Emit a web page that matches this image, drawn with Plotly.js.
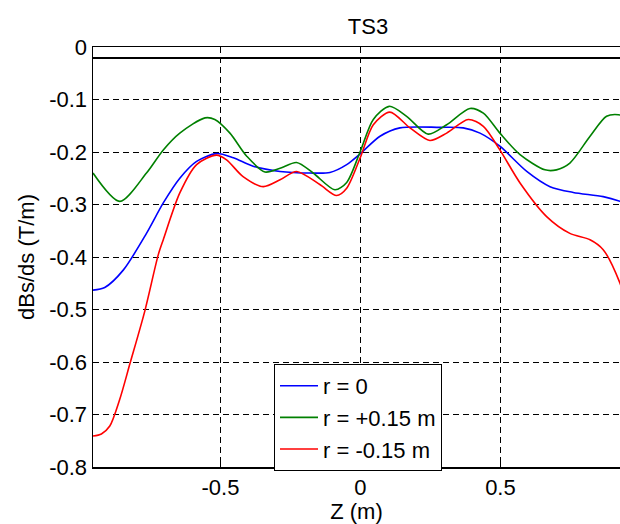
<!DOCTYPE html>
<html>
<head>
<meta charset="utf-8">
<script src="https://cdn.plot.ly/plotly-3.0.1.min.js"></script>
<style>html,body{margin:0;padding:0;background:#fff}#chart{width:620px;height:524px}</style>
</head>
<body>
<div id="chart"></div>
<script>
// ---- data ----
const seriesNames = ["r = 0", "r = +0.15 m", "r = -0.15 m"];

const zBlue = [-0.955, -0.913, -0.847, -0.764, -0.704, -0.645, -0.585, -0.514, -0.454, -0.383, -0.287, -0.18, -0.109, -0.049, 0, 0.07, 0.141, 0.284, 0.367, 0.427, 0.498, 0.594, 0.677, 0.76, 0.867, 0.927, 0.955];
const vBlue = [-0.463, -0.458, -0.425, -0.355, -0.297, -0.250, -0.218, -0.203, -0.211, -0.227, -0.237, -0.240, -0.239, -0.224, -0.203, -0.170, -0.154, -0.153, -0.154, -0.164, -0.189, -0.237, -0.266, -0.277, -0.285, -0.294, -0.300];

const zGreen = [-0.955, -0.859, -0.764, -0.704, -0.645, -0.555, -0.52, -0.466, -0.406, -0.341, -0.287, -0.228, -0.169, -0.091, -0.049, 0, 0.046, 0.103, 0.165, 0.242, 0.308, 0.391, 0.439, 0.498, 0.57, 0.659, 0.70, 0.748, 0.82, 0.879, 0.921, 0.955];
const vGreen = [-0.240, -0.294, -0.240, -0.196, -0.164, -0.135, -0.138, -0.164, -0.208, -0.238, -0.231, -0.220, -0.240, -0.272, -0.258, -0.198, -0.138, -0.113, -0.132, -0.166, -0.148, -0.117, -0.126, -0.164, -0.205, -0.234, -0.234, -0.221, -0.170, -0.132, -0.129, -0.135];

const zRed = [-0.955, -0.925, -0.895, -0.86, -0.823, -0.77, -0.722, -0.704, -0.645, -0.585, -0.514, -0.478, -0.419, -0.347, -0.287, -0.228, -0.145, -0.085, -0.049, 0, 0.046, 0.105, 0.177, 0.248, 0.308, 0.385, 0.439, 0.498, 0.57, 0.665, 0.748, 0.82, 0.867, 0.927, 0.955];
const vRed = [-0.741, -0.737, -0.722, -0.672, -0.603, -0.503, -0.396, -0.367, -0.278, -0.224, -0.206, -0.215, -0.247, -0.266, -0.253, -0.237, -0.262, -0.283, -0.269, -0.210, -0.148, -0.124, -0.154, -0.178, -0.164, -0.138, -0.151, -0.196, -0.259, -0.323, -0.355, -0.367, -0.386, -0.450, -0.500];

const zRef = [-0.955, 0.955];
const vRef = [-0.021, -0.021];

const zTicks = [-0.5, 0, 0.5];
const zTickText = ["-0.5", "0", "0.5"];
const yTicks = [0, -0.1, -0.2, -0.3, -0.4, -0.5, -0.6, -0.7, -0.8];
const yTickText = ["0", "-0.1", "-0.2", "-0.3", "-0.4", "-0.5", "-0.6", "-0.7", "-0.8"];

// ---- chart ----
const FONT = "Liberation Sans, Arial, Helvetica, sans-serif";
const lineW = 1.6;
const traces = [
  {x: zRef, y: vRef, mode: "lines", line: {color: "#000000", width: 2}, showlegend: false, hoverinfo: "skip"},
  {x: zBlue, y: vBlue, name: seriesNames[0], mode: "lines", line: {color: "#0000ff", width: lineW, shape: "spline", smoothing: 0.8}},
  {x: zGreen, y: vGreen, name: seriesNames[1], mode: "lines", line: {color: "#008000", width: lineW, shape: "spline", smoothing: 0.8}},
  {x: zRed, y: vRed, name: seriesNames[2], mode: "lines", line: {color: "#ff0000", width: lineW, shape: "spline", smoothing: 0.8}}
];

const layout = {
  width: 620, height: 524,
  margin: {l: 93, r: 0, t: 47, b: 57, pad: 0},
  paper_bgcolor: "#ffffff", plot_bgcolor: "#ffffff",
  font: {family: FONT, size: 22, color: "#000000"},
  title: {text: "TS3", x: (368 - 93) / 527, xref: "paper", xanchor: "center", y: 1 - 26 / 524, yanchor: "middle", font: {family: FONT, size: 22, color: "#000"}},
  xaxis: {
    range: [-0.955, 0.927], tickvals: zTicks, ticktext: zTickText,
    showgrid: true, gridcolor: "#000000", gridwidth: 1, griddash: "6px,4px",
    zeroline: false, showline: true, linecolor: "#000000", linewidth: 1.5, mirror: "ticks",
    ticks: "inside", ticklen: 5, tickcolor: "#000000", tickwidth: 1,
    tickfont: {family: FONT, size: 22, color: "#000"},
    title: {text: "Z (m)", font: {family: FONT, size: 22, color: "#000"}}
  },
  yaxis: {
    range: [-0.8, 0], tickvals: yTicks, ticktext: yTickText,
    showgrid: true, gridcolor: "#000000", gridwidth: 1, griddash: "6px,4px",
    zeroline: false, showline: true, linecolor: "#000000", linewidth: 1.5, mirror: false,
    ticks: "inside", ticklen: 5, tickcolor: "#000000", tickwidth: 1,
    tickfont: {family: FONT, size: 22, color: "#000"},
    title: {text: "dBs/ds (T/m)", standoff: 8, font: {family: FONT, size: 22, color: "#000"}}
  },
  legend: {
    x: (274 - 93) / 527, y: (468 - 365) / 420, xanchor: "left", yanchor: "top",
    bgcolor: "#ffffff", bordercolor: "#000000", borderwidth: 1,
    itemwidth: 38, tracegroupgap: 0,
    font: {family: FONT, size: 22, color: "#000"}
  },
  showlegend: true
};

Plotly.newPlot("chart", traces, layout, {staticPlot: true, displayModeBar: false});
</script>
</body>
</html>
